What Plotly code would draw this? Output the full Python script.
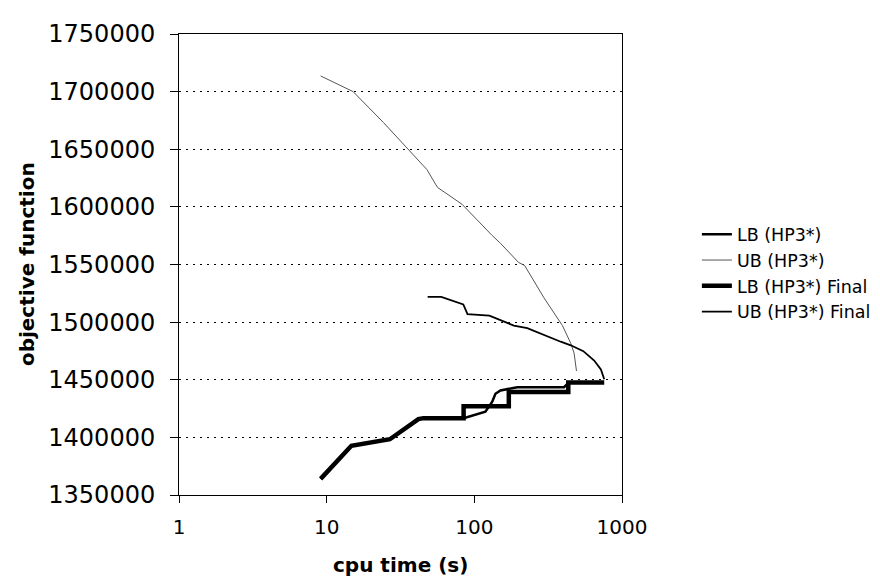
import plotly.graph_objects as go

# ---- data ----
lb_t = [9.1, 14.7, 26.8, 33.0, 41.8, 45.2, 84.6, 86.9, 118.8, 132, 139, 150.3, 195.3, 405.1, 437, 490]
lb_v = [1364000, 1392700, 1398400, 1406900, 1415800, 1416700, 1416700, 1417000, 1422300, 1430800,
        1437800, 1440700, 1443500, 1443500, 1447700, 1447700]

ub_t = [9.1, 15.1, 24.2, 34.8, 47.7, 56.3, 82.5, 132, 150.3, 199.3, 218.9, 296.1, 395.1, 450, 473.7, 491.8]
ub_v = [1713600, 1700000, 1673300, 1651300, 1632400, 1616900, 1602300, 1575200, 1568400, 1551800,
        1549200, 1521100, 1497000, 1481600, 1473100, 1457600]

lbf_t = [9.1, 14.7, 26.8, 33.0, 41.8, 45.2, 84.6, 84.6, 171.2, 171.2, 432.7, 432.7, 758]
lbf_v = [1364000, 1392700, 1398400, 1406900, 1415800, 1416700, 1416700, 1427000, 1427000,
         1439300, 1439300, 1447700, 1447700]

ubf_t = [48.3, 59.7, 84.2, 89.9, 126.5, 150.3, 185.1, 228.3, 296.1, 384.6, 450, 547.2, 648, 719.7, 758]
ubf_v = [1521900, 1521900, 1515400, 1506900, 1505700, 1501900, 1497000, 1494700, 1488600, 1483000,
         1479900, 1474800, 1466700, 1459000, 1450500]

y_ticks = [1350000, 1400000, 1450000, 1500000, 1550000, 1600000, 1650000, 1700000, 1750000]
x_ticks = [1, 10, 100, 1000]
x_tick_text = ["1", "10", "100", "1000"]

FONT = "DejaVu Sans, Verdana, sans-serif"

fig = go.Figure()
fig.add_trace(go.Scatter(x=lb_t, y=lb_v, mode="lines", name="LB (HP3*)",
                         line=dict(color="black", width=2.5)))
fig.add_trace(go.Scatter(x=ub_t, y=ub_v, mode="lines", name="UB (HP3*)",
                         line=dict(color="#555555", width=1)))
fig.add_trace(go.Scatter(x=lbf_t, y=lbf_v, mode="lines", name="LB (HP3*) Final",
                         line=dict(color="black", width=4.5)))
fig.add_trace(go.Scatter(x=ubf_t, y=ubf_v, mode="lines", name="UB (HP3*) Final",
                         line=dict(color="black", width=1.8)))

# page body has an 8px margin: figure is 872x571 placed at (8, 8)
fig.update_layout(
    width=872, height=571,
    margin=dict(l=171, r=258, t=14, b=84),
    paper_bgcolor="white", plot_bgcolor="white",
    font=dict(family=FONT, color="black"),
    showlegend=True,
    legend=dict(xref="container", yref="container", x=0.79, y=0.635,
                xanchor="left", yanchor="top",
                font=dict(size=17.5, family=FONT, color="black"),
                bgcolor="rgba(0,0,0,0)", itemwidth=30, tracegroupgap=0),
    xaxis=dict(type="log", range=[0, 3], tickvals=x_ticks, ticktext=x_tick_text,
               showgrid=False, showline=True, linecolor="black", linewidth=1, mirror=True,
               ticks="outside", ticklen=7, tickcolor="black",
               tickfont=dict(size=20, family=FONT, color="black"), ticklabelstandoff=7,
               zeroline=False),
    yaxis=dict(range=[1350000, 1750000], tickvals=y_ticks, tickformat="d",
               showgrid=True, gridcolor="black", gridwidth=1, griddash="2px,5px",
               showline=True, linecolor="black", linewidth=1, mirror=True,
               ticks="outside", ticklen=8, tickcolor="black",
               tickfont=dict(size=24, family=FONT, color="black"), ticklabelstandoff=10,
               zeroline=False),
    annotations=[
        dict(text="<b>objective function</b>", xref="paper", yref="paper",
             x=-0.344, y=0.5, xanchor="center", yanchor="middle", textangle=-90,
             showarrow=False, font=dict(size=20, family=FONT, color="black")),
        dict(text="<b>cpu time (s)</b>", xref="paper", yref="paper",
             x=0.5, y=-0.152, xanchor="center", yanchor="middle",
             showarrow=False, font=dict(size=20, family=FONT, color="black")),
    ],
)

fig.write_html("out.html")
